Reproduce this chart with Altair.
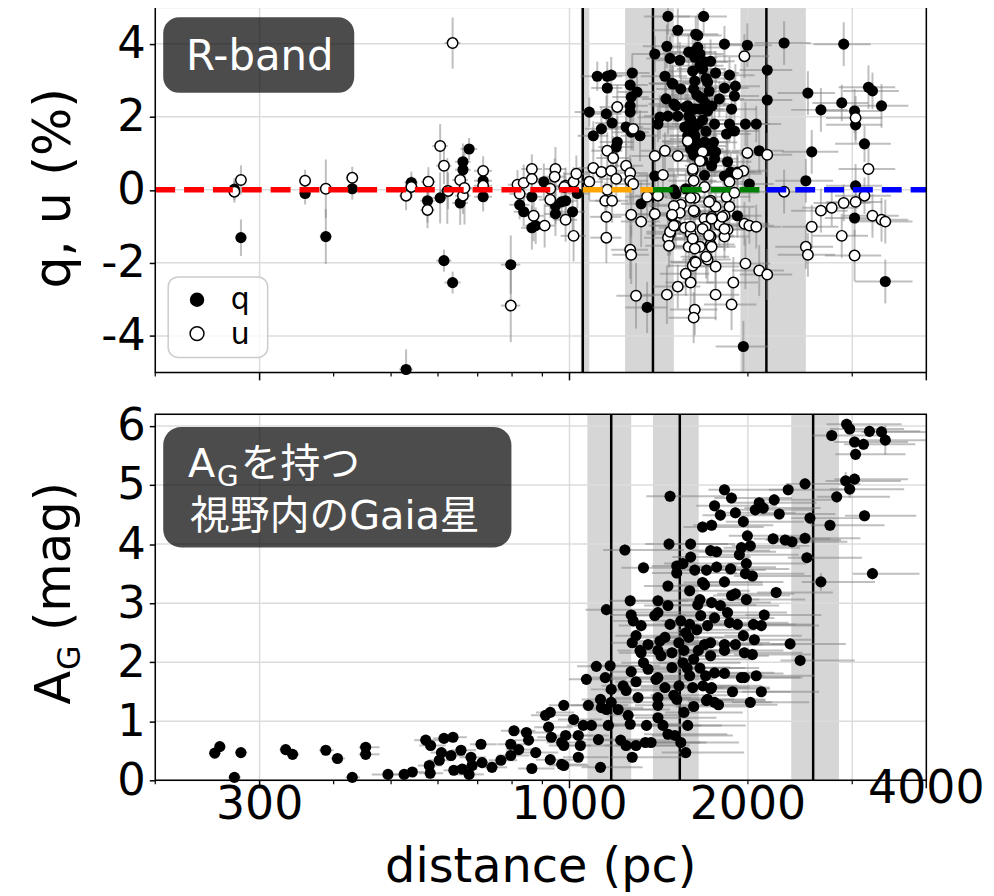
import altair as alt
import pandas as pd

FONT = "DejaVu Sans, Noto Sans CJK JP"

# ---------------- data ----------------
x_domain = [200, 4000]
q_domain = [-5, 5]
ag_domain = [0, 6.2]

# (distance pc, q %, distance error pc, q error %)
q_points = [
    (279, -1.31, 6, 0.5), (272, 0.02, 6, 0.3), (358, -0.10, 8, 0.3), (388, -1.28, 9, 0.75),
    (430, 0.03, 10, 0.3), (530, -4.92, 14, 0.55), (541, 0.20, 14, 0.3), (576, -0.30, 16, 0.6),
    (605, -0.22, 18, 0.7), (614, -1.94, 18, 0.3), (635, -2.54, 20, 0.3), (661, 0.77, 20, 0.5),
    (661, 0.55, 20, 0.4), (677, 1.12, 22, 0.3), (654, -0.36, 20, 0.6), (622, -0.03, 18, 0.9),
    (715, 0.25, 25, 0.4), (715, -0.19, 25, 0.4), (796, -2.05, 30, 0.8), (824, -0.41, 32, 0.4),
    (837, -0.60, 32, 0.4), (864, -0.19, 35, 0.5), (864, -1.04, 35, 0.6), (877, -0.98, 35, 0.5),
    (905, 0.22, 38, 0.5), (947, -0.44, 40, 0.5), (947, -0.66, 40, 0.6), (985, -0.30, 45, 0.6),
    (970, -0.33, 45, 0.5), (1012, -0.60, 50, 0.5), (1031, -0.10, 50, 0.4),
    (1114, 3.11, 70, 0.4), (1158, 3.11, 70, 0.4), (1176, 3.14, 75, 0.5), (1158, 2.79, 70, 0.5),
    (1080, 2.13, 60, 0.4), (1154, 2.08, 70, 0.5), (1180, 1.83, 75, 0.5), (1132, 1.67, 70, 0.6),
    (1097, 1.48, 65, 0.4), (1204, 1.31, 80, 0.7), (1199, 1.17, 80, 0.6), (1276, 3.20, 90, 0.5),
    (1266, 2.87, 90, 0.5), (1300, 2.68, 95, 0.6), (1271, 2.54, 90, 0.5), (1266, 2.30, 90, 0.6),
    (1266, 2.13, 90, 0.6), (1246, 1.72, 85, 0.5), (1315, 1.48, 95, 0.7), (1271, 1.58, 90, 0.5),
    (1466, 4.75, 130, 0.5), (1523, 4.37, 140, 0.6), (1633, 4.26, 150, 0.5), (1460, 3.93, 130, 0.6),
    (1393, 3.72, 120, 0.5), (1478, 3.60, 130, 0.6), (1535, 3.55, 140, 0.5), (1449, 3.11, 130, 0.6),
    (1489, 2.92, 130, 0.5), (1541, 2.76, 140, 0.6), (1455, 2.49, 130, 0.5), (1511, 2.30, 140, 0.6),
    (1583, 2.30, 150, 0.5), (1421, 1.99, 120, 0.6), (1466, 2.02, 130, 0.5), (1523, 2.02, 140, 0.6),
    (1410, 1.80, 120, 0.5), (1583, 1.75, 150, 0.6), (1595, 1.26, 150, 0.7), (1393, 0.38, 120, 0.6),
    (1321, -0.38, 100, 0.6), (1352, -3.22, 110, 0.7), (1511, -0.11, 140, 0.5), (1500, 0.00, 140, 0.5),
    (1684, 4.75, 160, 0.5), (1646, 4.23, 160, 0.6), (1826, 3.99, 180, 0.5), (1996, 3.96, 200, 0.6),
    (2302, 4.02, 250, 0.6), (1614, 3.77, 150, 0.5), (1627, 3.63, 150, 0.6), (1690, 3.50, 160, 0.5),
    (1730, 3.52, 170, 0.6), (1614, 3.25, 150, 0.5), (1764, 3.20, 170, 0.6), (1862, 3.14, 190, 0.5),
    (2156, 3.28, 220, 0.6), (1627, 2.98, 150, 0.5), (1710, 2.95, 160, 0.6), (1826, 2.79, 180, 0.5),
    (1905, 2.84, 190, 0.6), (1898, 2.57, 190, 0.5), (1620, 2.76, 150, 0.5), (1660, 2.54, 160, 0.6),
    (1790, 2.49, 180, 0.5), (2156, 2.46, 220, 0.6), (2525, 2.65, 280, 0.6), (1627, 2.21, 150, 0.5),
    (1710, 2.16, 160, 0.6), (1877, 2.21, 190, 0.5), (1601, 1.94, 150, 0.6), (1677, 1.91, 160, 0.5),
    (1757, 1.80, 170, 0.6), (1862, 1.80, 190, 0.5), (1981, 1.80, 200, 0.6), (2066, 1.80, 210, 0.5),
    (1841, 1.53, 180, 0.6), (1898, 1.61, 190, 0.5), (1627, 1.48, 150, 0.6), (1690, 1.31, 160, 0.5),
    (1627, 1.17, 150, 0.6), (1710, 1.07, 160, 0.5), (1764, 1.04, 170, 0.6), (2090, 1.07, 210, 0.6),
    (2563, 1.04, 280, 0.6), (1737, 0.66, 170, 0.5), (1848, 0.77, 180, 0.6), (1870, 0.49, 190, 0.5),
    (2505, 0.25, 280, 0.6), (1589, 3.77, 150, 0.5), (1660, 3.72, 160, 0.6), (1677, 3.31, 160, 0.5),
    (1677, 2.49, 160, 0.5), (1660, 2.21, 160, 0.6), (1589, 2.02, 150, 0.5), (1620, 1.67, 150, 0.6),
    (1583, 1.31, 150, 0.5), (1677, 1.20, 160, 0.6), (1757, 0.85, 170, 0.5), (1826, 0.38, 180, 0.6),
    (1920, 0.49, 190, 0.5), (1920, -0.71, 190, 0.6), (2011, 0.16, 200, 0.5), (2902, 3.99, 320, 0.6),
    (2656, 2.19, 290, 0.6), (2880, 2.38, 310, 0.5), (3027, 2.16, 330, 0.6), (3039, 1.78, 330, 0.5),
    (3195, 2.81, 350, 0.6), (3245, 2.71, 350, 0.5), (3361, 2.30, 370, 0.6), (3146, 1.26, 340, 0.5),
    (3039, 0.11, 330, 0.6), (3027, -0.77, 330, 0.5), (3411, -2.51, 380, 0.6), (1965, -4.29, 200, 0.7),
    (1495, 2.90, 130, 0.5), (1500, 2.35, 140, 0.5), (1571, 2.27, 150, 0.5), (1565, 1.72, 150, 0.6),
    (1583, 1.48, 150, 0.5), (1627, 1.39, 150, 0.5), (1660, 1.12, 160, 0.6), (1601, 1.12, 150, 0.5),
    (1571, 0.03, 150, 0.5), (1646, 3.90, 160, 0.5), (1660, 3.40, 160, 0.5), (1700, 3.05, 160, 0.6),
    (1640, 2.60, 160, 0.5), (1700, 2.35, 160, 0.5), (1650, 1.80, 160, 0.6), (1700, 1.60, 170, 0.5),
    (1620, 0.95, 150, 0.6), (1680, 0.80, 160, 0.6), (1720, 2.70, 170, 0.5), (1740, 2.30, 170, 0.6),
    (1750, 1.30, 170, 0.5), (1690, 0.40, 160, 0.5),
]

# (distance pc, u %, distance error pc, u error %)
u_points = [
    (272, -0.05, 6, 0.3), (279, 0.27, 6, 0.4), (358, 0.25, 8, 0.3), (388, 0.03, 9, 0.8),
    (430, 0.33, 10, 0.3), (530, -0.16, 14, 0.4), (541, 0.08, 14, 0.3), (578, 0.22, 16, 0.4),
    (576, -0.55, 16, 0.5), (605, 1.20, 18, 0.6), (614, 0.66, 18, 0.5), (635, 4.02, 20, 0.7),
    (654, 0.27, 20, 0.4), (661, -0.16, 20, 0.5), (665, 0.05, 20, 1.0), (624, -0.03, 18, 0.5),
    (715, 0.52, 25, 0.4), (715, 0.11, 25, 0.4), (796, -3.17, 30, 1.0), (817, 0.14, 30, 0.4),
    (824, -0.11, 32, 0.4), (837, 0.19, 32, 0.5), (864, 0.57, 35, 0.4), (864, 0.30, 35, 0.4),
    (870, -0.71, 35, 0.7), (908, -0.98, 38, 0.6), (928, -0.27, 40, 0.5), (928, 0.03, 40, 0.5),
    (947, 0.57, 40, 0.6), (944, 0.36, 40, 0.5), (985, 0.11, 45, 0.5), (985, -0.82, 45, 0.6),
    (1016, -1.26, 50, 0.7), (1016, 0.22, 50, 0.4), (1027, 0.44, 50, 0.5), (980, 0.08, 45, 0.4),
    (1204, 2.27, 80, 0.6), (1281, 1.67, 90, 0.6), (1158, 1.07, 70, 0.5), (1185, 0.87, 75, 0.6),
    (1097, 0.60, 65, 0.5), (1132, 0.49, 70, 0.5), (1176, 0.52, 75, 0.6), (1246, 0.66, 85, 0.6),
    (1266, 0.46, 90, 0.5), (1199, 0.30, 80, 0.5), (1080, 0.22, 60, 0.5), (1266, 0.25, 90, 0.6),
    (1281, 0.16, 90, 0.5), (1393, 0.93, 120, 0.6), (1449, 1.07, 130, 0.5), (1523, 0.93, 140, 0.6),
    (1438, 0.41, 130, 0.5), (1583, 1.34, 150, 0.6), (1614, 0.52, 150, 0.5), (1620, 0.25, 150, 0.6),
    (1158, 0.00, 70, 0.5), (1149, -0.30, 70, 0.5), (1180, -0.30, 75, 0.6), (1154, -0.74, 70, 0.6),
    (1154, -1.31, 70, 0.7), (1266, -1.64, 90, 0.8), (1271, -1.78, 90, 0.8), (1271, -0.68, 90, 0.6),
    (1321, -0.87, 100, 0.7), (1352, -0.19, 110, 0.6), (1393, -0.66, 120, 0.6), (1295, -2.90, 95, 0.9),
    (1460, -2.87, 130, 0.8), (1489, -0.71, 130, 0.6), (1541, -0.41, 140, 0.5), (1535, -0.63, 140, 0.6),
    (1511, -0.98, 140, 0.6), (1565, -1.04, 150, 0.5), (1478, -1.20, 130, 0.6), (1466, -1.31, 130, 0.5),
    (1472, -1.53, 130, 0.6), (1601, -1.20, 150, 0.6), (1614, -1.37, 150, 0.5), (1589, -1.56, 150, 0.6),
    (1627, -1.97, 150, 0.6), (1614, -2.08, 150, 0.5), (1571, -2.30, 150, 0.6), (1601, -2.54, 150, 0.7),
    (1523, -2.65, 140, 0.6), (1627, -3.28, 150, 0.7), (1620, -3.50, 150, 0.7),
    (1973, 3.66, 200, 0.6), (1996, 1.01, 200, 0.6), (2156, 0.96, 220, 0.6), (1677, 1.04, 160, 0.5),
    (1660, 0.79, 160, 0.6), (1614, 0.57, 150, 0.5), (1965, 0.52, 200, 0.6), (1920, 0.44, 190, 0.5),
    (1862, 0.22, 190, 0.6), (1690, 0.08, 160, 0.5),
    (2302, -0.05, 250, 0.6), (1627, -0.22, 150, 0.5), (1730, -0.30, 170, 0.6), (1841, -0.19, 180, 0.5),
    (1898, -0.08, 190, 0.6), (1862, -0.46, 190, 0.5), (1764, -0.46, 170, 0.5), (1627, -0.60, 150, 0.6),
    (1690, -0.79, 160, 0.5), (1737, -0.74, 170, 0.6), (1826, -0.71, 180, 0.5), (1790, -0.96, 180, 0.6),
    (1697, -1.01, 160, 0.5), (1601, -1.01, 150, 0.6), (1848, -1.09, 180, 0.5), (1730, -1.28, 170, 0.6),
    (1614, -1.34, 150, 0.5), (1826, -1.28, 180, 0.6), (1660, -1.56, 160, 0.5), (1730, -1.50, 170, 0.6),
    (1710, -1.91, 160, 0.6), (1633, -1.99, 150, 0.6), (1764, -2.10, 170, 0.6), (1973, -0.93, 200, 0.6),
    (2011, -0.98, 200, 0.5), (2066, -1.01, 210, 0.6), (1981, -2.02, 200, 0.7), (2090, -2.21, 210, 0.7),
    (2156, -2.32, 220, 0.7), (1890, -2.54, 190, 0.7), (1764, -2.87, 170, 0.7), (1877, -3.14, 190, 0.7),
    (2563, -1.01, 280, 0.6), (2505, -1.56, 280, 0.6), (2525, -1.78, 280, 0.6),
    (2656, -0.57, 290, 0.6), (2770, -0.49, 300, 0.5), (2880, -1.26, 310, 0.6), (2902, -0.36, 320, 0.5),
    (3039, -0.33, 330, 0.6), (3027, -1.80, 330, 0.7), (3146, -0.16, 340, 0.5), (3195, 0.57, 350, 0.6),
    (3039, 1.97, 330, 0.6), (3245, -0.71, 350, 0.6), (3361, -0.82, 370, 0.6), (3411, -0.87, 380, 0.6),
    (1410, -0.16, 120, 0.5), (1500, -0.44, 140, 0.5), (1490, -0.68, 130, 0.6), (1478, -1.15, 130, 0.6),
    (1500, -0.98, 140, 0.5), (1677, -1.07, 160, 0.5), (1737, -0.79, 170, 0.6), (1720, -1.25, 170, 0.5),
    (1826, -1.07, 180, 0.6), (1810, -0.74, 180, 0.5), (1620, -0.57, 150, 0.5), (1601, -0.22, 150, 0.6),
    (1720, -0.33, 170, 0.5), (1700, -1.83, 160, 0.6), (1627, -1.61, 150, 0.5), (1737, -1.56, 170, 0.6),
]

# (distance pc, A_G mag, distance error low pc, distance error high pc, A_G error mag)
ag_points = [
    (252, 0.46, 5, 6, 0.05), (257, 0.57, 5, 6, 0.05), (279, 0.47, 6, 7, 0.05), (272, 0.05, 6, 7, 0.05),
    (332, 0.52, 8, 9, 0.05), (341, 0.44, 8, 9, 0.05), (388, 0.51, 10, 12, 0.05), (406, 0.37, 10, 12, 0.05),
    (430, 0.05, 11, 13, 0.05), (453, 0.56, 12, 25, 0.05), (453, 0.44, 12, 25, 0.05), (494, 0.10, 30, 40, 0.05),
    (526, 0.10, 20, 25, 0.05), (543, 0.14, 20, 25, 0.05), (572, 0.68, 25, 35, 0.05), (583, 0.59, 25, 35, 0.05),
    (614, 0.71, 25, 35, 0.05), (636, 0.73, 25, 35, 0.05), (608, 0.47, 25, 35, 0.05), (631, 0.42, 25, 35, 0.05),
    (656, 0.51, 25, 40, 0.05), (682, 0.39, 30, 40, 0.05), (709, 0.61, 30, 45, 0.05), (580, 0.25, 25, 30, 0.05),
    (582, 0.12, 25, 30, 0.05), (603, 0.34, 25, 35, 0.05), (638, 0.17, 25, 35, 0.05), (659, 0.19, 25, 40, 0.05),
    (685, 0.25, 30, 40, 0.05), (677, 0.10, 30, 40, 0.05), (712, 0.30, 30, 45, 0.05), (740, 0.22, 30, 45, 0.05),
    (766, 0.34, 35, 50, 0.05), (806, 0.84, 40, 70, 0.05), (796, 0.61, 40, 60, 0.05), (796, 0.42, 40, 60, 0.05),
    (821, 0.52, 40, 70, 0.05), (846, 0.81, 45, 75, 0.05), (853, 0.68, 45, 75, 0.05), (877, 0.47, 45, 80, 0.05),
    (864, 0.20, 45, 80, 0.05), (911, 1.10, 50, 90, 0.06), (928, 1.15, 50, 90, 0.06), (922, 0.90, 50, 90, 0.06),
    (932, 0.73, 50, 90, 0.06), (978, 1.27, 55, 100, 0.06), (928, 0.35, 50, 90, 0.06), (970, 0.27, 55, 100, 0.06),
    (970, 0.64, 55, 100, 0.06), (978, 0.25, 55, 100, 0.06), (1016, 1.03, 60, 120, 0.06), (1035, 0.76, 60, 130, 0.06),
    (1043, 0.59, 60, 130, 0.06), (1035, 0.39, 60, 130, 0.06), (985, 0.76, 55, 110, 0.06), (978, 0.59, 55, 110, 0.06),
    (1068, 1.71, 70, 180, 0.08), (1076, 1.27, 70, 180, 0.08), (1055, 0.93, 65, 150, 0.06), (1089, 0.93, 70, 170, 0.06),
    (1110, 1.93, 80, 200, 0.08), (1128, 1.37, 80, 200, 0.08), (1132, 1.23, 80, 200, 0.08), (1119, 0.69, 80, 200, 0.06),
    (1128, 0.22, 80, 200, 0.06), (1154, 2.89, 90, 250, 0.10), (1149, 1.74, 90, 230, 0.08), (1171, 1.94, 90, 250, 0.08),
    (1154, 1.20, 90, 230, 0.08), (1163, 0.93, 90, 230, 0.06), (1176, 1.54, 90, 250, 0.08), (1176, 1.32, 90, 250, 0.08),
    (1208, 1.20, 100, 270, 0.08), (1232, 1.60, 100, 280, 0.08), (1246, 1.52, 100, 280, 0.08), (1256, 1.10, 100, 280, 0.08),
    (1266, 0.95, 100, 280, 0.08), (1220, 0.68, 100, 270, 0.06), (1246, 0.59, 100, 270, 0.06), (1276, 0.39, 100, 280, 0.06),
    (1271, 1.84, 100, 300, 0.08), (1295, 1.67, 100, 300, 0.08), (1305, 1.40, 110, 300, 0.08), (1266, 3.04, 100, 320, 0.10),
    (1271, 2.80, 100, 300, 0.10), (1281, 2.70, 100, 300, 0.10), (1276, 2.33, 100, 300, 0.10), (1295, 2.45, 100, 300, 0.10),
    (1321, 2.62, 110, 320, 0.10), (1315, 2.20, 110, 320, 0.10), (1333, 1.99, 110, 320, 0.08), (1357, 1.88, 110, 330, 0.08),
    (1295, 0.59, 100, 300, 0.06), (1343, 0.64, 110, 320, 0.06), (1349, 0.93, 110, 320, 0.06), (1373, 0.64, 110, 330, 0.06),
    (1333, 3.60, 110, 350, 0.10), (1410, 3.04, 120, 350, 0.10), (1393, 2.79, 120, 350, 0.10), (1410, 2.84, 120, 350, 0.10),
    (1466, 3.29, 130, 380, 0.10), (1466, 2.96, 130, 380, 0.10), (1478, 2.64, 130, 380, 0.10), (1449, 2.42, 130, 370, 0.10),
    (1421, 2.36, 120, 360, 0.10), (1357, 2.30, 110, 340, 0.10), (1321, 2.16, 110, 330, 0.10), (1410, 2.20, 120, 360, 0.10),
    (1427, 2.11, 120, 360, 0.10), (1410, 1.74, 120, 360, 0.08), (1399, 1.71, 120, 350, 0.08), (1449, 1.57, 130, 370, 0.08),
    (1410, 1.40, 120, 360, 0.08), (1410, 1.27, 120, 360, 0.08), (1410, 1.06, 120, 360, 0.08), (1438, 0.93, 130, 370, 0.06),
    (1466, 0.78, 130, 380, 0.06), (1506, 0.76, 130, 380, 0.06), (1541, 0.64, 140, 390, 0.06), (1571, 0.47, 140, 400, 0.06),
    (1583, 0.93, 140, 400, 0.06), (1489, 1.91, 130, 380, 0.08), (1500, 1.44, 130, 380, 0.08), (1517, 1.37, 140, 380, 0.08),
    (1517, 3.63, 140, 400, 0.10), (1517, 3.51, 140, 400, 0.10), (1489, 2.16, 130, 380, 0.10), (1529, 2.33, 140, 390, 0.10),
    (1571, 2.50, 140, 400, 0.10), (1595, 2.64, 150, 400, 0.10), (1554, 1.99, 140, 390, 0.08), (1595, 1.77, 150, 400, 0.08),
    (1614, 1.57, 150, 400, 0.08), (1595, 3.21, 150, 420, 0.10), (1690, 3.31, 160, 430, 0.10), (1646, 2.97, 150, 420, 0.10),
    (1665, 2.79, 160, 420, 0.10), (1710, 2.62, 160, 430, 0.10), (1690, 2.30, 160, 430, 0.10), (1730, 2.11, 160, 440, 0.10),
    (1697, 1.77, 160, 430, 0.08), (1737, 1.57, 170, 440, 0.08), (1710, 1.37, 160, 430, 0.08), (1757, 1.32, 170, 440, 0.08),
    (1826, 4.92, 110, 510, 0.10), (1876, 4.78, 120, 500, 0.10), (1757, 4.65, 120, 480, 0.10), (1797, 4.49, 120, 480, 0.10),
    (1905, 4.53, 130, 500, 0.10), (1965, 4.38, 130, 520, 0.10), (1677, 4.29, 120, 450, 0.10), (1737, 4.32, 120, 470, 0.10),
    (2090, 4.70, 200, 520, 0.10), (2058, 4.58, 150, 520, 0.10), (2123, 4.61, 150, 530, 0.10), (2215, 4.75, 160, 550, 0.10),
    (2259, 4.51, 160, 550, 0.10), (2339, 4.92, 170, 560, 0.10), (2497, 5.02, 180, 600, 0.10), (2545, 4.44, 180, 600, 0.10),
    (2751, 4.32, 200, 650, 0.10), (1996, 4.14, 140, 520, 0.10), (2206, 4.09, 160, 550, 0.10), (2312, 4.07, 170, 560, 0.10),
    (2374, 4.04, 170, 570, 0.10), (2497, 4.10, 180, 600, 0.10), (2515, 3.77, 180, 600, 0.10), (2656, 3.36, 190, 620, 0.15),
    (1601, 4.00, 110, 300, 0.10), (1730, 3.89, 120, 450, 0.10), (1771, 3.87, 120, 460, 0.10), (1935, 3.82, 130, 500, 0.10),
    (1950, 3.94, 130, 500, 0.10), (2019, 3.97, 140, 520, 0.10), (1601, 3.78, 110, 420, 0.10), (1988, 3.67, 140, 520, 0.10),
    (1771, 3.61, 120, 460, 0.10), (1870, 3.58, 130, 480, 0.10), (1981, 3.50, 140, 510, 0.10), (2035, 3.46, 140, 520, 0.10),
    (1703, 3.56, 120, 440, 0.10), (1627, 3.56, 110, 420, 0.10), (1554, 3.67, 110, 400, 0.10), (1826, 3.36, 130, 470, 0.10),
    (2232, 3.18, 160, 550, 0.10), (1877, 3.13, 130, 480, 0.10), (1677, 3.35, 120, 440, 0.10), (1905, 3.16, 130, 490, 0.10),
    (1988, 3.06, 140, 510, 0.10), (2131, 2.80, 150, 530, 0.10), (1660, 3.06, 120, 430, 0.10), (1737, 3.01, 120, 450, 0.10),
    (1797, 2.96, 130, 460, 0.10), (1848, 2.84, 130, 480, 0.10), (1757, 2.75, 120, 460, 0.10), (1862, 2.67, 130, 480, 0.10),
    (1920, 2.64, 130, 490, 0.10), (2043, 2.64, 140, 520, 0.10), (2107, 2.62, 150, 530, 0.10), (1965, 2.45, 140, 500, 0.10),
    (2051, 2.38, 140, 520, 0.10), (2356, 2.31, 170, 570, 0.10), (1905, 2.30, 130, 490, 0.10), (1826, 2.30, 130, 470, 0.10),
    (2450, 2.03, 180, 580, 0.10), (1973, 2.16, 140, 500, 0.10), (2035, 2.13, 140, 520, 0.10), (1826, 2.20, 130, 470, 0.10),
    (1730, 2.33, 120, 450, 0.10), (1589, 2.42, 110, 420, 0.10), (1973, 1.74, 140, 500, 0.08), (2066, 1.77, 140, 520, 0.08),
    (1950, 1.74, 130, 500, 0.08), (1826, 1.81, 130, 470, 0.08), (1757, 1.82, 120, 460, 0.08), (1730, 1.55, 120, 450, 0.08),
    (1884, 1.50, 130, 480, 0.08), (2107, 1.50, 150, 530, 0.08), (1703, 1.35, 120, 440, 0.08), (1784, 1.28, 120, 460, 0.08),
    (2019, 1.32, 140, 520, 0.08), (2935, 6.03, 220, 700, 0.10), (2970, 5.95, 220, 700, 0.10), (2770, 5.84, 200, 650, 0.10),
    (3207, 5.91, 230, 700, 0.10), (3361, 5.90, 250, 700, 0.10), (3411, 5.76, 250, 700, 0.25), (3027, 5.73, 230, 700, 0.10),
    (3134, 5.69, 230, 700, 0.10), (3039, 5.52, 230, 650, 0.10), (2924, 5.07, 220, 700, 0.15), (3027, 5.10, 230, 700, 0.10),
    (2970, 4.93, 220, 700, 0.15), (2824, 4.80, 210, 650, 0.10), (3146, 4.48, 230, 700, 0.10), (3245, 3.50, 240, 650, 0.10),
    (1478, 4.81, 130, 350, 0.10), (1240, 3.90, 100, 320, 0.10), (1472, 4.00, 130, 380, 0.10),
    (1541, 2.70, 110, 390, 0.10), (1560, 2.20, 110, 400, 0.10), (1620, 2.05, 110, 420, 0.10), (1640, 2.55, 120, 420, 0.10),
    (1580, 1.90, 110, 400, 0.08), (1660, 1.90, 120, 430, 0.08), (1620, 1.25, 110, 420, 0.08), (1560, 1.15, 110, 400, 0.08),
    (1650, 2.20, 120, 420, 0.10), (1530, 1.60, 110, 390, 0.08), (1680, 1.60, 120, 430, 0.08),
]

top_vlines = [1053, 1383, 2149]
top_bands = [(1045, 1080), (1241, 1500), (1943, 2505)]
bottom_vlines = [1176, 1535, 2577]
bottom_bands = [(1072, 1271), (1383, 1652), (2367, 2849)]
# zero-line segments: (colour, start pc, end pc)
zero_segments = [("#ff0000", 200, 1053), ("#ffa500", 1053, 1383),
                 ("#008000", 1383, 2149), ("#0000ff", 2149, 4000)]
x_grid = [300, 1000, 2000, 3000]
x_major_ticks = [300, 1000, 4000]
x_minor_ticks = [200, 400, 500, 600, 700, 800, 900, 2000, 3000]
x_tick_labels = [300, 1000, 2000]
x_tick_label_last = [4000]
top_y_ticks = [-4, -2, 0, 2, 4]
bottom_y_ticks = [0, 1, 2, 3, 4, 5, 6]

# ---------------- frames (error bars limited to the plotted window) ----------------
def err_frame(df, ydom):
    df["dlo"] = df["dlo"].clip(lower=x_domain[0])
    df["dhi"] = df["dhi"].clip(upper=x_domain[1])
    df["vlo"] = df["vlo"].clip(lower=ydom[0], upper=ydom[1])
    df["vhi"] = df["vhi"].clip(lower=ydom[0], upper=ydom[1])
    return df


def qu_frame(points):
    df = pd.DataFrame(points, columns=["d", "v", "de", "ve"])
    df["dlo"] = df["d"] - df["de"]
    df["dhi"] = df["d"] + df["de"]
    df["vlo"] = df["v"] - df["ve"]
    df["vhi"] = df["v"] + df["ve"]
    return err_frame(df, q_domain)


q_df = qu_frame(q_points)
u_df = qu_frame(u_points)
ag_df = pd.DataFrame(ag_points, columns=["d", "v", "dm", "dp", "ve"])
ag_df["dlo"] = ag_df["d"] - ag_df["dm"]
ag_df["dhi"] = ag_df["d"] + ag_df["dp"]
ag_df["vlo"] = ag_df["v"] - ag_df["ve"]
ag_df["vhi"] = ag_df["v"] + ag_df["ve"]
ag_df = err_frame(ag_df, ag_domain)

seg_rows = []
for i, (col, a, b) in enumerate(zero_segments):
    seg_rows.append({"seg": i, "col": col, "d": a, "v": 0})
    seg_rows.append({"seg": i, "col": col, "d": b, "v": 0})
seg_df = pd.DataFrame(seg_rows)

ONE = pd.DataFrame({"k": [0]})

W = 775
H1 = 367
H2 = 368
BAND = "#d6d6d6"
GRID = "#dcdcdc"
ERR = "#808080"
TICKFS = 46
TITLEFS = 48
PT = 125

xs = alt.Scale(type="log", domain=x_domain, nice=False)
ys_top = alt.Scale(domain=q_domain, nice=False, zero=False)
ys_bot = alt.Scale(domain=ag_domain, nice=False, zero=False)


def X(f):
    return alt.X(f, type="quantitative", scale=xs, axis=None)


def yaxis(vals):
    return alt.Axis(values=vals, title=None, grid=False, domain=False,
                    labelFontSize=45, labelFont="DejaVu Sans", labelColor="black",
                    tickColor="black", tickSize=6, tickWidth=1.5, labelPadding=4,
                    labelExpr="datum.value < 0 ? '-' + abs(datum.value) : '' + datum.value")


def make_Y(ys, yticks):
    def Y(f):
        return alt.Y(f, type="quantitative", scale=ys, axis=yaxis(yticks), title=None)
    return Y


def panel_common(H, bands, vlines, Y, yticks):
    layers = []
    layers.append(alt.Chart(pd.DataFrame(bands, columns=["lo", "hi"])).mark_rect(color=BAND).encode(
        x=X("lo"), x2="hi", y=alt.value(0), y2=alt.value(H)))
    layers.append(alt.Chart(pd.DataFrame({"v": yticks})).mark_rule(color=GRID, strokeWidth=1.5).encode(
        y=Y("v"), x=alt.value(0), x2=alt.value(W)))
    layers.append(alt.Chart(pd.DataFrame({"d": x_grid})).mark_rule(color=GRID, strokeWidth=1.5).encode(
        x=X("d"), y=alt.value(0), y2=alt.value(H)))
    layers.append(alt.Chart(pd.DataFrame({"d": vlines})).mark_rule(color="black", strokeWidth=2.5).encode(
        x=X("d"), y=alt.value(0), y2=alt.value(H)))
    return layers


def errbars(df, Y):
    v = alt.Chart(df).mark_rule(color=ERR, opacity=0.5, strokeWidth=2).encode(
        x=X("d"), y=Y("vlo"), y2="vhi")
    h = alt.Chart(df).mark_rule(color=ERR, opacity=0.5, strokeWidth=2).encode(
        x=X("dlo"), x2="dhi", y=Y("v"))
    return [v, h]


def xticks(H):
    maj = alt.Chart(pd.DataFrame({"d": x_major_ticks})).mark_rule(color="black", strokeWidth=1.5).encode(
        x=X("d"), y=alt.value(H), y2=alt.value(H + 8))
    mino = alt.Chart(pd.DataFrame({"d": x_minor_ticks})).mark_rule(color="black", strokeWidth=1.2).encode(
        x=X("d"), y=alt.value(H), y2=alt.value(H + 4))
    frame = alt.Chart(ONE).mark_rect(fillOpacity=0, stroke="black", strokeWidth=1.5).encode(
        x=alt.value(0), x2=alt.value(W), y=alt.value(0), y2=alt.value(H))
    return [maj, mino, frame]


# ---------------- top panel ----------------
Yt = make_Y(ys_top, top_y_ticks)
top_layers = panel_common(H1, top_bands, top_vlines, Yt, top_y_ticks)
top_layers += errbars(q_df, Yt) + errbars(u_df, Yt)
top_layers.append(alt.Chart(q_df).mark_circle(color="black", size=PT, opacity=1).encode(
    x=X("d"), y=Yt("v")))
top_layers.append(alt.Chart(u_df).mark_circle(fill="white", stroke="black", strokeWidth=1.5,
                                               size=PT - 15, opacity=1, fillOpacity=1).encode(
    x=X("d"), y=Yt("v")))
top_layers.append(alt.Chart(seg_df).mark_line(strokeWidth=5.5, strokeDash=[20, 9]).encode(
    x=X("d"), y=Yt("v"), color=alt.Color("col:N", scale=None), detail="seg:N"))
# R-band label box
top_layers.append(alt.Chart(ONE).mark_rect(fill="black", opacity=0.7, cornerRadius=16).encode(
    x=alt.value(8), x2=alt.value(200), y=alt.value(10), y2=alt.value(86)))
top_layers.append(alt.Chart(ONE).mark_text(text="R-band", fontSize=42, color="white",
                                           align="center", baseline="alphabetic").encode(
    x=alt.value(105), y=alt.value(63)))
# legend
top_layers.append(alt.Chart(ONE).mark_rect(fill="white", fillOpacity=0.8, stroke="#cccccc",
                                           strokeWidth=1.5, cornerRadius=10).encode(
    x=alt.value(13), x2=alt.value(113), y=alt.value(271), y2=alt.value(352)))
top_layers.append(alt.Chart(ONE).mark_circle(color="black", size=210, opacity=1).encode(
    x=alt.value(42), y=alt.value(294)))
top_layers.append(alt.Chart(ONE).mark_circle(fill="white", stroke="black", strokeWidth=1.5,
                                             size=195, opacity=1, fillOpacity=1).encode(
    x=alt.value(42), y=alt.value(328)))
top_layers.append(alt.Chart(ONE).mark_text(text="q", fontSize=30, color="black", align="left",
                                           baseline="alphabetic").encode(x=alt.value(76), y=alt.value(303)))
top_layers.append(alt.Chart(ONE).mark_text(text="u", fontSize=30, color="black", align="left",
                                           baseline="alphabetic").encode(x=alt.value(76), y=alt.value(338)))
# y title
top_layers.append(alt.Chart(ONE).mark_text(text="q, u (%)", fontSize=51, color="black", angle=270,
                                           align="center", baseline="alphabetic").encode(
    x=alt.value(-86), y=alt.value(182)))
top_layers += xticks(H1)

top = alt.layer(*top_layers).properties(width=W, height=H1)

# ---------------- bottom panel ----------------
Yb = make_Y(ys_bot, bottom_y_ticks)
bot_layers = panel_common(H2, bottom_bands, bottom_vlines, Yb, bottom_y_ticks)
bot_layers += errbars(ag_df, Yb)
bot_layers.append(alt.Chart(ag_df).mark_circle(color="black", size=PT, opacity=1).encode(
    x=X("d"), y=Yb("v")))
bot_layers.append(alt.Chart(ONE).mark_rect(fill="black", opacity=0.7, cornerRadius=18).encode(
    x=alt.value(8), x2=alt.value(358), y=alt.value(13), y2=alt.value(134)))
for txt, fs, xx, yy in [("A", 40, 33, 63), ("G", 28, 62, 72), ("を持つ", 40, 86, 63),
                        ("視野内のGaia星", 40, 35, 115)]:
    bot_layers.append(alt.Chart(ONE).mark_text(text=txt, fontSize=fs, color="white", align="left",
                                               baseline="alphabetic").encode(x=alt.value(xx), y=alt.value(yy)))
# y title A_G (mag)
for txt, fs, xx, yy in [("A", 50, -86, 292), ("G", 32, -76, 257), ("(mag)", 50, -86, 218)]:
    bot_layers.append(alt.Chart(ONE).mark_text(text=txt, fontSize=fs, color="black", angle=270,
                                               align="left", baseline="alphabetic").encode(
        x=alt.value(xx), y=alt.value(yy)))
bot_layers += xticks(H2)
bot_layers.append(alt.Chart(pd.DataFrame({"d": x_tick_labels})).mark_text(
    fontSize=TICKFS, color="black", align="center", baseline="alphabetic").encode(
    x=X("d"), y=alt.value(407), text="d:N"))
bot_layers.append(alt.Chart(pd.DataFrame({"d": x_tick_label_last})).mark_text(
    fontSize=TICKFS, color="black", align="center", baseline="alphabetic").encode(
    x=X("d"), y=alt.value(391), text="d:N"))
bot_layers.append(alt.Chart(ONE).mark_text(text="distance (pc)", fontSize=TITLEFS, color="black",
                                           align="center", baseline="alphabetic").encode(
    x=alt.value(W / 2), y=alt.value(470)))

bottom = alt.layer(*bot_layers).properties(width=W, height=H2)

chart = alt.vconcat(top, bottom, spacing=21).properties(
    padding={"left": 20, "top": -5, "right": 0, "bottom": 0}
).configure_view(stroke=None).configure(font=FONT)

chart.save("out.html", embed_options={"renderer": "svg", "actions": False})
